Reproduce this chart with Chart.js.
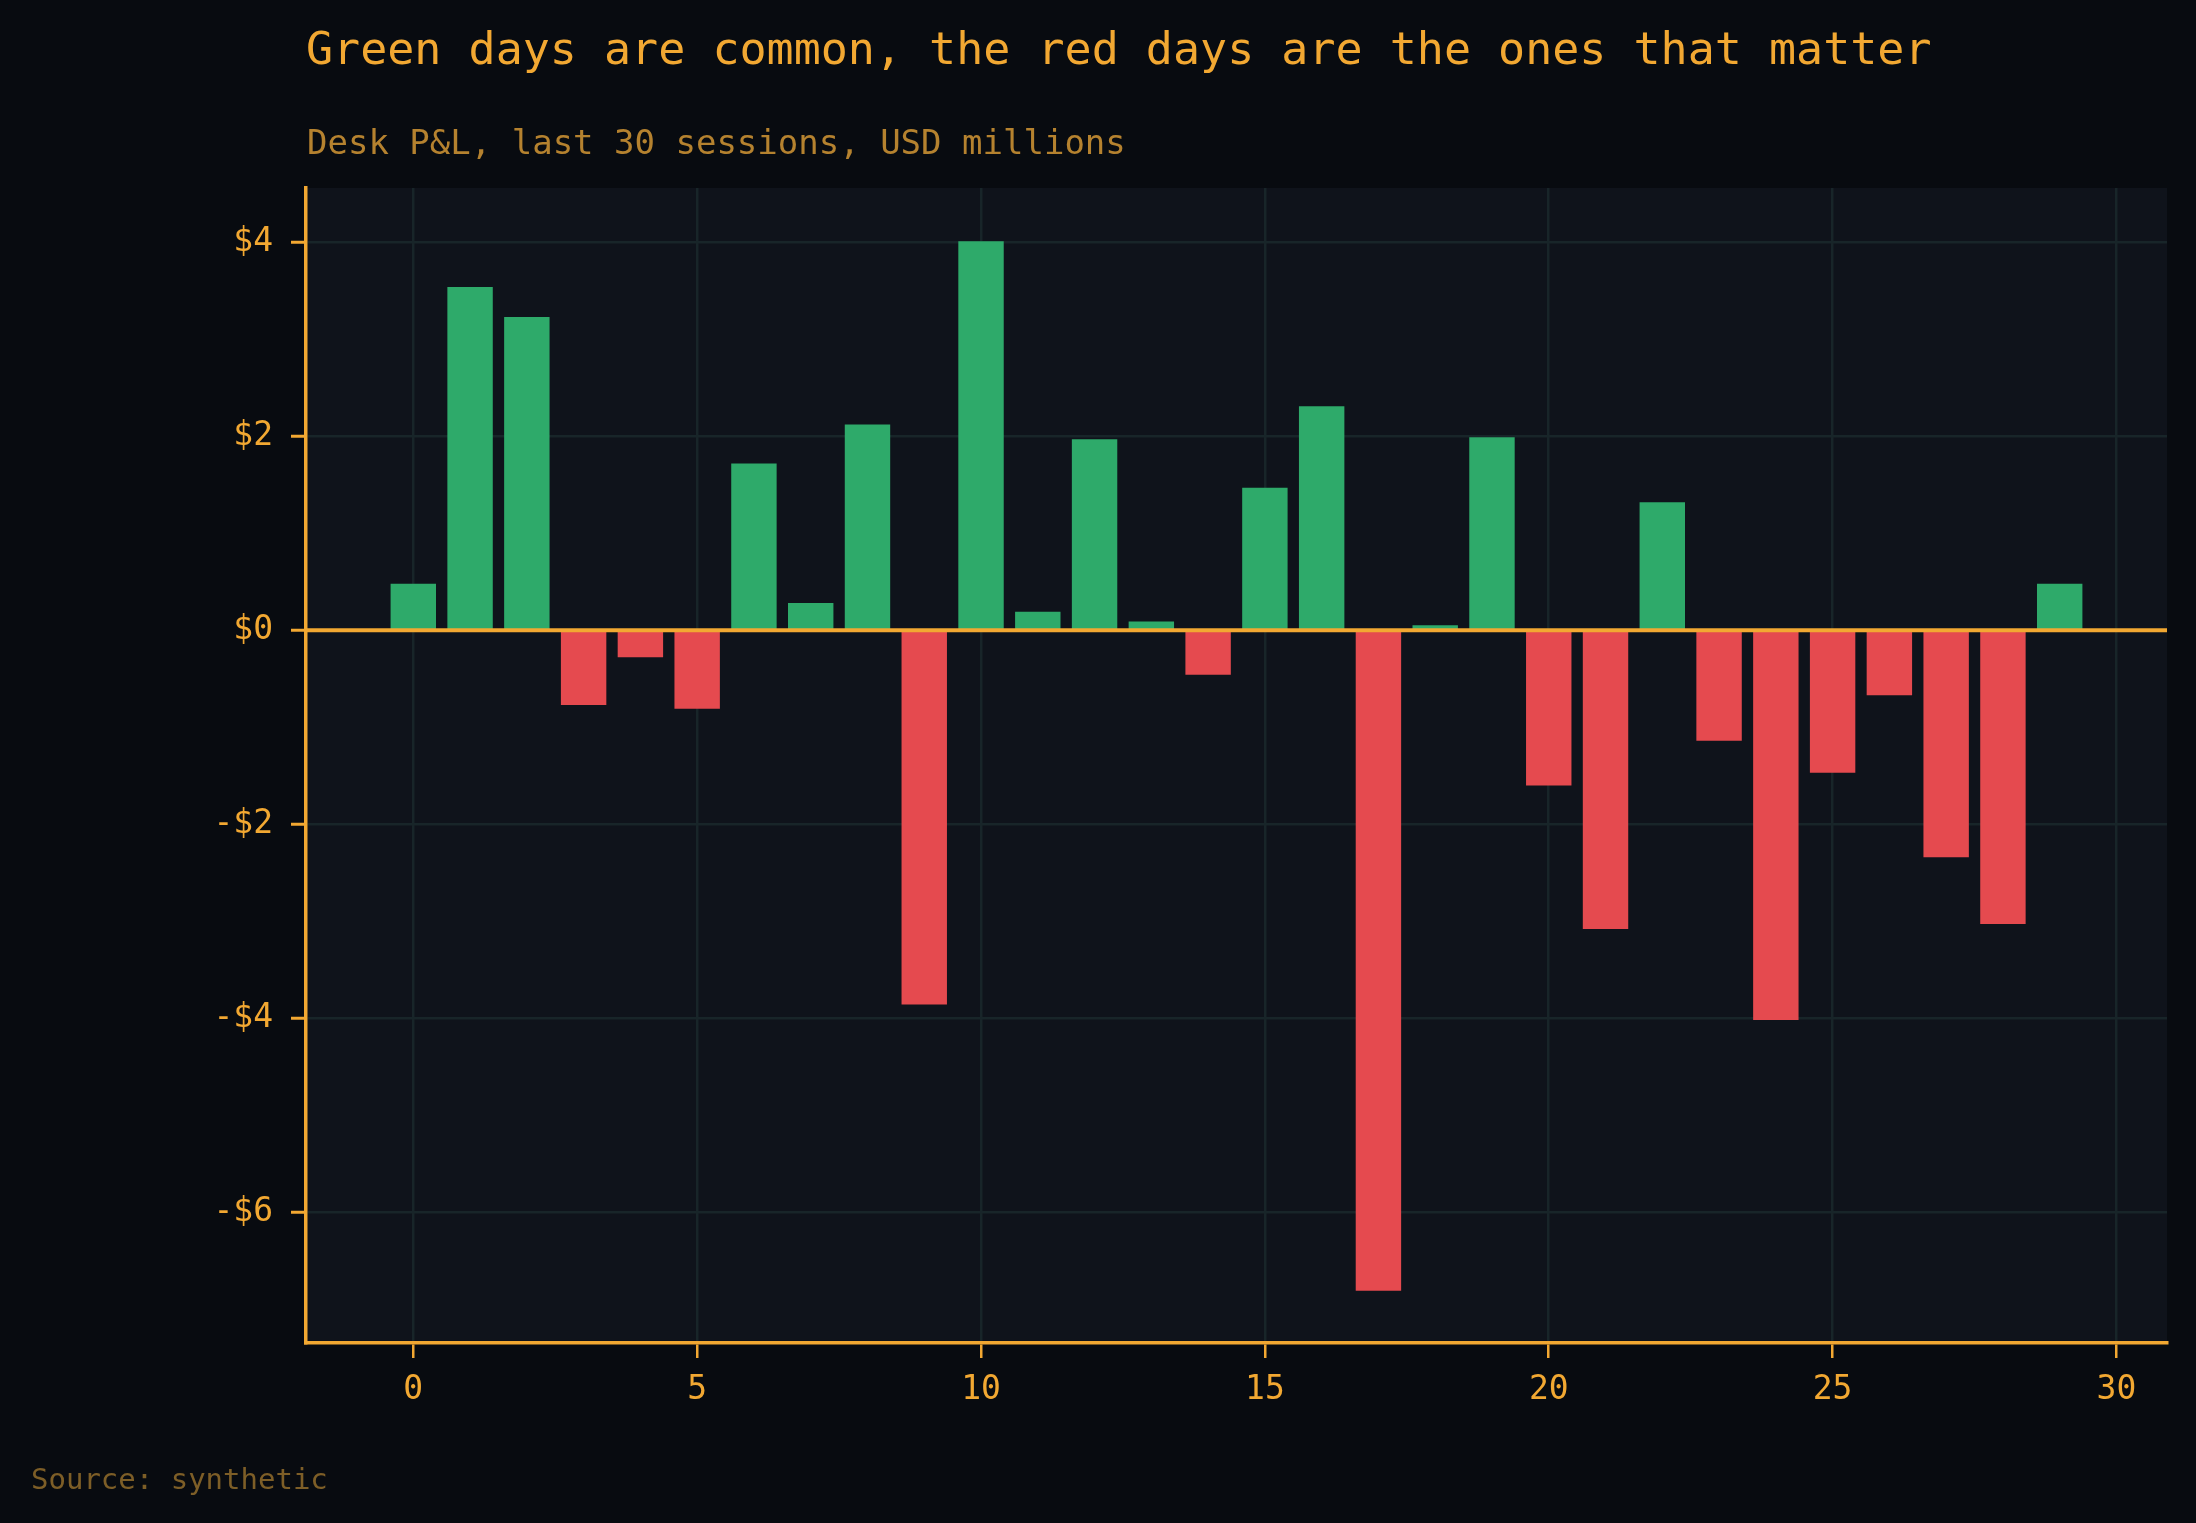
<!DOCTYPE html>
<html>
<head>
<meta charset="UTF-8">
<script src="https://cdn.jsdelivr.net/npm/chart.js@4.4.1/dist/chart.umd.min.js"></script>
<title>Desk P&amp;L</title>
<style>
	html, body { margin: 0; padding: 0; background: #080b10; }
	.content { width: 2196px; height: 1523px; }
</style>
</head>
<body>
	<div class="content">
		<canvas id="pnlChart"></canvas>
	</div>
	<script>
		// data
		var sessions = [0, 1, 2, 3, 4, 5, 6, 7, 8, 9, 10, 11, 12, 13, 14,
			15, 16, 17, 18, 19, 20, 21, 22, 23, 24, 25, 26, 27, 28, 29];
		var pnl = [0.48, 3.54, 3.23, -0.77, -0.28, -0.81, 1.72, 0.28, 2.12, -3.86,
			4.01, 0.19, 1.97, 0.09, -0.46, 1.47, 2.31, -6.81, 0.05, 1.99,
			-1.60, -3.08, 1.32, -1.14, -4.02, -1.47, -0.67, -2.34, -3.03, 0.48];
		var xTicks = [0, 5, 10, 15, 20, 25, 30];
		var yTicks = [-6, -4, -2, 0, 2, 4];

		var titleText = 'Green days are common, the red days are the ones that matter';
		var subtitleText = 'Desk P&L, last 30 sessions, USD millions';
		var sourceText = 'Source: synthetic';

		var ORANGE = '#f2a832';
		var GREEN = '#2eaa6a';
		var RED = '#e54a4f';
		var MONO = '"DejaVu Sans Mono", "Liberation Mono", monospace';

		//背景、零線、標題
		var decoPlugin = {
			id: 'deco',
			beforeDraw: function(chart) {
				var ctx = chart.ctx, a = chart.chartArea;
				ctx.save();
				ctx.fillStyle = '#080b10';
				ctx.fillRect(0, 0, chart.width, chart.height);
				ctx.fillStyle = '#0f131b';
				ctx.fillRect(a.left, a.top, a.right - a.left, a.bottom - a.top);
				ctx.restore();
			},
			afterDatasetsDraw: function(chart) {
				var ctx = chart.ctx, a = chart.chartArea;
				var y0 = chart.scales.y.getPixelForValue(0);
				ctx.save();
				ctx.strokeStyle = ORANGE;
				ctx.lineWidth = 4;
				ctx.beginPath();
				ctx.moveTo(a.left, y0);
				ctx.lineTo(a.right, y0);
				ctx.stroke();
				ctx.restore();
			},
			afterDraw: function(chart) {
				var ctx = chart.ctx, a = chart.chartArea;
				ctx.save();
				ctx.textAlign = 'left';
				ctx.textBaseline = 'alphabetic';
				ctx.fillStyle = ORANGE;
				ctx.font = '45px ' + MONO;
				ctx.fillText(titleText, a.left, 64);
				ctx.fillStyle = '#b5822f';
				ctx.font = '34px ' + MONO;
				ctx.fillText(subtitleText, a.left + 1, 154);
				ctx.fillStyle = '#7d5e27';
				ctx.font = '29px ' + MONO;
				ctx.fillText(sourceText, 31, 1489);
				ctx.restore();
			}
		};

		function money(v) {
			return v < 0 ? '-$' + Math.abs(v) : '$' + v;
		}

		function drawChart() {
			var ctx = document.getElementById('pnlChart').getContext('2d');
			new Chart(ctx, {
				type: 'bar',
				data: {
					datasets: [{
						data: sessions.map(function(s, i) { return { x: s, y: pnl[i] }; }),
						backgroundColor: pnl.map(function(v) { return v >= 0 ? GREEN : RED; }),
						borderWidth: 0,
						categoryPercentage: 1,
						barPercentage: 0.8
					}]
				},
				options: {
					responsive: true,
					maintainAspectRatio: false,
					animation: false,
					layout: { padding: { top: 188, right: 29, left: 0, bottom: 0 } },
					plugins: {
						legend: { display: false },
						tooltip: { enabled: false }
					},
					scales: {
						x: {
							type: 'linear',
							min: -1.89,
							max: 30.89,
							offset: false,
							afterBuildTicks: function(scale) {
								scale.ticks = xTicks.map(function(v) { return { value: v }; });
							},
							afterFit: function(scale) { scale.height = 180; },
							border: { color: ORANGE, width: 3.5 },
							grid: {
								offset: false,
								color: '#182529',
								lineWidth: 2.5,
								tickColor: ORANGE,
								tickLength: 15,
								tickWidth: 2.5
							},
							ticks: {
								color: ORANGE,
								padding: 13,
								maxRotation: 0,
								font: { family: MONO, size: 33 }
							}
						},
						y: {
							type: 'linear',
							min: -7.35,
							max: 4.56,
							afterBuildTicks: function(scale) {
								scale.ticks = yTicks.map(function(v) { return { value: v }; });
							},
							afterFit: function(scale) { scale.width = 306; },
							border: { color: ORANGE, width: 3.5 },
							grid: {
								color: '#182529',
								lineWidth: 2.5,
								tickColor: ORANGE,
								tickLength: 15,
								tickWidth: 3
							},
							ticks: {
								color: ORANGE,
								padding: 18,
								font: { family: MONO, size: 33 },
								callback: function(v) { return money(v); }
							}
						}
					}
				},
				plugins: [decoPlugin]
			});
		}

		drawChart();
	</script>
</body>
</html>
